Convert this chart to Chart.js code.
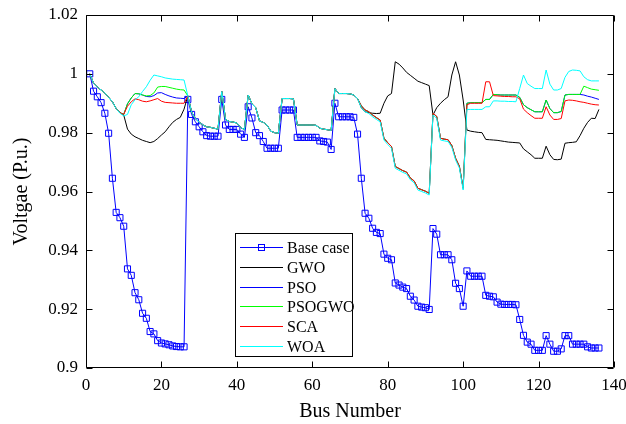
<!DOCTYPE html>
<html>
<head>
<meta charset="utf-8">
<script src="https://cdn.jsdelivr.net/npm/chart.js@4.4.1/dist/chart.umd.min.js"></script>
<style>
  html, body { margin: 0; padding: 0; background: #ffffff; }
  #c { display: block; }
</style>
</head>
<body>
<canvas id="c" width="626" height="424"></canvas>
<script>
// ---------------- DATA ----------------
const seriesNames = ['Base case', 'GWO', 'PSO', 'PSOGWO', 'SCA', 'WOA'];
const busNumbers = Array.from({ length: 136 }, (_, i) => i + 1);

const xTickValues = [0, 20, 40, 60, 80, 100, 120, 140];
const xTickLabels = ['0', '20', '40', '60', '80', '100', '120', '140'];
const yTickValues = [0.9, 0.92, 0.94, 0.96, 0.98, 1.0, 1.02];
const yTickLabels = ['0.9', '0.92', '0.94', '0.96', '0.98', '1', '1.02'];

const baseCase = [
  1.0000, 0.9941, 0.9922, 0.9902, 0.9866, 0.9798, 0.9645, 0.9529, 0.9511, 0.9482,
  0.9337, 0.9315, 0.9256, 0.9232, 0.9186, 0.9169, 0.9124, 0.9116, 0.9093, 0.9085,
  0.9082, 0.9079, 0.9075, 0.9073, 0.9072, 0.9072, 0.9913, 0.9862, 0.9837, 0.9820,
  0.9803, 0.9790, 0.9788, 0.9788, 0.9788, 0.9913, 0.9826, 0.9811, 0.9811, 0.9811,
  0.9795, 0.9784, 0.9888, 0.9850, 0.9800, 0.9790, 0.9770, 0.9747, 0.9747, 0.9747,
  0.9747, 0.9877, 0.9877, 0.9877, 0.9877, 0.9784, 0.9784, 0.9784, 0.9784, 0.9784,
  0.9784, 0.9772, 0.9770, 0.9768, 0.9743, 0.9900, 0.9854, 0.9854, 0.9854, 0.9854,
  0.9852, 0.9795, 0.9645, 0.9526, 0.9509, 0.9475, 0.9461, 0.9457, 0.9387, 0.9373,
  0.9368, 0.9289, 0.9282, 0.9275, 0.9270, 0.9244, 0.9231, 0.9210, 0.9207, 0.9205,
  0.9199, 0.9474, 0.9455, 0.9385, 0.9385, 0.9385, 0.9368, 0.9288, 0.9270, 0.9210,
  0.9330, 0.9312, 0.9312, 0.9312, 0.9312, 0.9247, 0.9244, 0.9242, 0.9224, 0.9217,
  0.9216, 0.9216, 0.9216, 0.9215, 0.9165, 0.9111, 0.9088, 0.9081, 0.9060, 0.9060,
  0.9060, 0.9110, 0.9081, 0.9057, 0.9057, 0.9065, 0.9110, 0.9110, 0.9081, 0.9081,
  0.9081, 0.9081, 0.9072, 0.9068, 0.9068, 0.9068
];

const gwo = [
  1.0000, 0.9968, 0.9955, 0.9945, 0.9935, 0.9920, 0.9905, 0.9882, 0.9868, 0.9860,
  0.9812, 0.9795, 0.9786, 0.9780, 0.9774, 0.9770, 0.9766, 0.9770, 0.9780, 0.9792,
  0.9803, 0.9820, 0.9835, 0.9845, 0.9852, 0.9880, 0.9925, 0.9870, 0.9848, 0.9836,
  0.9826, 0.9820, 0.9818, 0.9815, 0.9812, 0.9940, 0.9845, 0.9838, 0.9836, 0.9833,
  0.9818, 0.9810, 0.9928, 0.9898, 0.9885, 0.9840, 0.9835, 0.9826, 0.9805, 0.9800,
  0.9798, 0.9916, 0.9916, 0.9916, 0.9915, 0.9826, 0.9826, 0.9826, 0.9826, 0.9826,
  0.9825, 0.9815, 0.9812, 0.9810, 0.9808, 0.9950, 0.9933, 0.9933, 0.9933, 0.9932,
  0.9928, 0.9916, 0.9885, 0.9871, 0.9868, 0.9866, 0.9865, 0.9866, 0.9900, 0.9925,
  0.9933, 1.0041, 1.0033, 1.0020, 1.0005, 0.9995, 0.9985, 0.9975, 0.9970, 0.9965,
  0.9960, 0.9860, 0.9885, 0.9900, 0.9912, 0.9922, 0.9996, 1.0041, 0.9996, 0.9911,
  0.9809, 0.9805, 0.9803, 0.9801, 0.9800, 0.9777, 0.9776, 0.9775, 0.9774, 0.9772,
  0.9770, 0.9768, 0.9767, 0.9766, 0.9765, 0.9745, 0.9735, 0.9725, 0.9713, 0.9713,
  0.9713, 0.9754, 0.9725, 0.9709, 0.9708, 0.9710, 0.9764, 0.9766, 0.9767, 0.9769,
  0.9790, 0.9815, 0.9835, 0.9849, 0.9848, 0.9879
];

const pso = [
  1.0000, 0.9968, 0.9955, 0.9945, 0.9935, 0.9920, 0.9905, 0.9882, 0.9868, 0.9862,
  0.9898, 0.9918, 0.9933, 0.9932, 0.9928, 0.9923, 0.9922, 0.9926, 0.9935, 0.9936,
  0.9930, 0.9925, 0.9921, 0.9918, 0.9917, 0.9916, 0.9925, 0.9870, 0.9848, 0.9836,
  0.9826, 0.9820, 0.9818, 0.9815, 0.9812, 0.9940, 0.9845, 0.9838, 0.9836, 0.9833,
  0.9818, 0.9810, 0.9928, 0.9898, 0.9885, 0.9840, 0.9835, 0.9826, 0.9805, 0.9800,
  0.9798, 0.9916, 0.9916, 0.9916, 0.9915, 0.9826, 0.9826, 0.9826, 0.9826, 0.9826,
  0.9825, 0.9815, 0.9812, 0.9810, 0.9808, 0.9950, 0.9933, 0.9933, 0.9933, 0.9932,
  0.9928, 0.9916, 0.9891, 0.9877, 0.9871, 0.9860, 0.9851, 0.9843, 0.9781, 0.9766,
  0.9753, 0.9685, 0.9678, 0.9671, 0.9666, 0.9646, 0.9636, 0.9611, 0.9606, 0.9601,
  0.9594, 0.9866, 0.9855, 0.9781, 0.9778, 0.9776, 0.9756, 0.9713, 0.9686, 0.9611,
  0.9900, 0.9902, 0.9902, 0.9902, 0.9902, 0.9913, 0.9913, 0.9930, 0.9929, 0.9928,
  0.9928, 0.9928, 0.9928, 0.9928, 0.9920, 0.9895, 0.9885, 0.9878, 0.9871, 0.9871,
  0.9871, 0.9911, 0.9882, 0.9868, 0.9868, 0.9872, 0.9928, 0.9930, 0.9930, 0.9930,
  0.9930, 0.9928, 0.9924, 0.9921, 0.9917, 0.9913
];

const psogwo = [
  1.0000, 0.9968, 0.9955, 0.9945, 0.9935, 0.9920, 0.9905, 0.9882, 0.9868, 0.9862,
  0.9898, 0.9918, 0.9933, 0.9932, 0.9928, 0.9925, 0.9926, 0.9935, 0.9955, 0.9957,
  0.9957, 0.9954, 0.9951, 0.9948, 0.9946, 0.9945, 0.9925, 0.9870, 0.9848, 0.9836,
  0.9826, 0.9820, 0.9818, 0.9815, 0.9812, 0.9940, 0.9845, 0.9838, 0.9836, 0.9833,
  0.9818, 0.9810, 0.9928, 0.9898, 0.9885, 0.9840, 0.9835, 0.9826, 0.9805, 0.9800,
  0.9798, 0.9916, 0.9916, 0.9916, 0.9915, 0.9826, 0.9826, 0.9826, 0.9826, 0.9826,
  0.9825, 0.9815, 0.9812, 0.9810, 0.9808, 0.9950, 0.9933, 0.9933, 0.9933, 0.9932,
  0.9928, 0.9916, 0.9891, 0.9877, 0.9871, 0.9860, 0.9851, 0.9843, 0.9781, 0.9766,
  0.9753, 0.9685, 0.9678, 0.9671, 0.9666, 0.9646, 0.9636, 0.9611, 0.9606, 0.9601,
  0.9594, 0.9866, 0.9855, 0.9781, 0.9778, 0.9776, 0.9756, 0.9713, 0.9686, 0.9611,
  0.9900, 0.9902, 0.9902, 0.9902, 0.9902, 0.9913, 0.9913, 0.9930, 0.9929, 0.9928,
  0.9928, 0.9928, 0.9928, 0.9928, 0.9920, 0.9895, 0.9885, 0.9878, 0.9871, 0.9871,
  0.9871, 0.9911, 0.9882, 0.9868, 0.9868, 0.9872, 0.9928, 0.9930, 0.9930, 0.9930,
  0.9930, 0.9958, 0.9953, 0.9948, 0.9946, 0.9944
];

const sca = [
  1.0000, 0.9968, 0.9955, 0.9945, 0.9935, 0.9920, 0.9905, 0.9882, 0.9868, 0.9862,
  0.9890, 0.9905, 0.9915, 0.9912, 0.9907, 0.9905, 0.9908, 0.9912, 0.9916, 0.9907,
  0.9903, 0.9902, 0.9901, 0.9900, 0.9900, 0.9900, 0.9925, 0.9870, 0.9848, 0.9836,
  0.9826, 0.9820, 0.9818, 0.9815, 0.9812, 0.9940, 0.9845, 0.9838, 0.9836, 0.9833,
  0.9818, 0.9810, 0.9928, 0.9898, 0.9885, 0.9840, 0.9835, 0.9826, 0.9805, 0.9800,
  0.9798, 0.9916, 0.9916, 0.9916, 0.9915, 0.9826, 0.9826, 0.9826, 0.9826, 0.9826,
  0.9825, 0.9815, 0.9812, 0.9810, 0.9808, 0.9950, 0.9933, 0.9933, 0.9933, 0.9932,
  0.9928, 0.9916, 0.9891, 0.9877, 0.9871, 0.9860, 0.9851, 0.9843, 0.9781, 0.9766,
  0.9753, 0.9685, 0.9678, 0.9671, 0.9666, 0.9646, 0.9636, 0.9611, 0.9606, 0.9601,
  0.9594, 0.9866, 0.9855, 0.9781, 0.9778, 0.9776, 0.9756, 0.9713, 0.9686, 0.9611,
  0.9895, 0.9900, 0.9900, 0.9900, 0.9900, 0.9973, 0.9973, 0.9926, 0.9925, 0.9924,
  0.9923, 0.9923, 0.9922, 0.9922, 0.9915, 0.9880, 0.9868, 0.9858, 0.9849, 0.9849,
  0.9849, 0.9888, 0.9860, 0.9845, 0.9845, 0.9848, 0.9908, 0.9911, 0.9910, 0.9908,
  0.9905, 0.9903, 0.9900, 0.9897, 0.9895, 0.9894
];

const woa = [
  1.0000, 0.9968, 0.9955, 0.9945, 0.9935, 0.9920, 0.9905, 0.9882, 0.9866, 0.9857,
  0.9862, 0.9895, 0.9912, 0.9922, 0.9940, 0.9956, 0.9978, 0.9996, 0.9993, 0.9990,
  0.9986, 0.9984, 0.9982, 0.9981, 0.9980, 0.9979, 0.9925, 0.9870, 0.9848, 0.9836,
  0.9826, 0.9820, 0.9818, 0.9815, 0.9812, 0.9940, 0.9845, 0.9838, 0.9836, 0.9833,
  0.9818, 0.9810, 0.9928, 0.9898, 0.9885, 0.9840, 0.9835, 0.9826, 0.9805, 0.9800,
  0.9798, 0.9916, 0.9916, 0.9916, 0.9915, 0.9826, 0.9826, 0.9826, 0.9826, 0.9826,
  0.9825, 0.9815, 0.9812, 0.9810, 0.9808, 0.9950, 0.9933, 0.9933, 0.9933, 0.9932,
  0.9928, 0.9916, 0.9885, 0.9871, 0.9865, 0.9854, 0.9845, 0.9837, 0.9775, 0.9760,
  0.9747, 0.9679, 0.9672, 0.9665, 0.9660, 0.9640, 0.9630, 0.9605, 0.9600, 0.9595,
  0.9588, 0.9860, 0.9849, 0.9775, 0.9772, 0.9770, 0.9750, 0.9707, 0.9680, 0.9605,
  0.9879, 0.9879, 0.9879, 0.9879, 0.9879, 0.9888, 0.9888, 0.9908, 0.9908, 0.9907,
  0.9907, 0.9906, 0.9906, 0.9905, 0.9950, 0.9996, 0.9967, 0.9958, 0.9950, 0.9950,
  0.9950, 1.0013, 0.9965, 0.9945, 0.9945, 0.9950, 0.9988, 1.0008, 1.0013, 1.0012,
  1.0010, 0.9990, 0.9980, 0.9976, 0.9976, 0.9976
];

const seriesValues = [baseCase, gwo, pso, psogwo, sca, woa];
const seriesColors = ['#0000ff', '#000000', '#0000ff', '#00ff00', '#ff0000', '#00ffff'];

// ---------------- CHART ----------------
Chart.defaults.font.family = "'Liberation Serif', 'Times New Roman', serif";
Chart.defaults.color = '#000000';

const datasets = seriesNames.map((name, i) => ({
  label: name,
  data: busNumbers.map((b, k) => ({ x: b, y: seriesValues[i][k] })),
  borderColor: seriesColors[i],
  backgroundColor: seriesColors[i],
  borderWidth: 1,
  fill: false,
  tension: 0,
  pointStyle: 'rect',
  pointRadius: i === 0 ? 4.3 : 0,
  pointHoverRadius: 0,
  pointBorderWidth: 1,
  pointBorderColor: seriesColors[i],
  pointBackgroundColor: 'rgba(0,0,0,0)',
  order: seriesNames.length - i
}));

const TICK_LEN = 6;

const framePlugin = {
  id: 'framePlugin',
  afterDraw(chart) {
    const ctx = chart.ctx;
    const a = chart.chartArea;
    const xs = chart.scales.x, ys = chart.scales.y;
    ctx.save();
    ctx.strokeStyle = '#000000';
    ctx.lineWidth = 1;
    const L = Math.round(a.left) + 0.5, R = Math.round(a.right) - 0.5;
    const T = Math.round(a.top) + 0.5, B = Math.round(a.bottom) - 0.5;
    ctx.beginPath();
    ctx.rect(L, T, R - L, B - T);
    ctx.stroke();
    ctx.beginPath();
    xTickValues.forEach(v => {
      const px = Math.round(xs.getPixelForValue(v)) + 0.5;
      ctx.moveTo(px, B); ctx.lineTo(px, B - TICK_LEN);
      ctx.moveTo(px, T); ctx.lineTo(px, T + TICK_LEN);
    });
    yTickValues.forEach(v => {
      const py = Math.round(ys.getPixelForValue(v)) + 0.5;
      ctx.moveTo(L, py); ctx.lineTo(L + TICK_LEN, py);
      ctx.moveTo(R, py); ctx.lineTo(R - TICK_LEN, py);
    });
    ctx.stroke();

    // legend inside the plot area
    const boxX = 235.5, boxY = 233.5, boxW = 117, boxH = 123;
    ctx.fillStyle = '#ffffff';
    ctx.fillRect(boxX, boxY, boxW, boxH);
    ctx.strokeStyle = '#000000';
    ctx.strokeRect(boxX, boxY, boxW, boxH);
    ctx.font = "16px 'Liberation Serif', 'Times New Roman', serif";
    ctx.textBaseline = 'middle';
    ctx.textAlign = 'left';
    chart.data.datasets.forEach((ds, i) => {
      const yRow = Math.round(247 + i * 19.8) + 0.5;
      ctx.strokeStyle = ds.borderColor;
      ctx.lineWidth = 1;
      ctx.beginPath();
      ctx.moveTo(240, yRow); ctx.lineTo(283, yRow);
      ctx.stroke();
      if (ds.pointRadius > 0) {
        ctx.strokeRect(258.5, yRow - 3, 6, 6);
      }
      ctx.fillStyle = '#000000';
      ctx.fillText(ds.label, 287, yRow + 1);
    });
    ctx.restore();
  }
};

new Chart(document.getElementById('c'), {
  type: 'line',
  data: { datasets },
  options: {
    responsive: false,
    animation: false,
    devicePixelRatio: 1,
    layout: { padding: { top: 15, right: 12, left: 0, bottom: 0 } },
    plugins: { legend: { display: false }, tooltip: { enabled: false }, title: { display: false } },
    scales: {
      x: {
        type: 'linear',
        min: 0, max: 140,
        grid: { display: false, drawTicks: false },
        border: { display: false },
        afterBuildTicks: s => { s.ticks = xTickValues.map(v => ({ value: v })); },
        afterFit: s => { s.height = 56; s.paddingLeft = 0; s.paddingRight = 0; },
        ticks: {
          padding: 7,
          maxRotation: 0,
          font: { size: 17 },
          color: '#000000',
          callback: (v, i) => xTickLabels[i]
        },
        title: {
          display: true,
          text: 'Bus Number',
          font: { size: 20 },
          color: '#000000',
          padding: { top: 0, bottom: 0 }
        }
      },
      y: {
        type: 'linear',
        min: 0.9, max: 1.02,
        grid: { display: false, drawTicks: false },
        border: { display: false },
        afterBuildTicks: s => { s.ticks = yTickValues.map(v => ({ value: v })); },
        afterFit: s => { s.width = 86; s.paddingTop = 0; s.paddingBottom = 0; },
        ticks: {
          padding: 8,
          font: { size: 17 },
          color: '#000000',
          callback: (v, i) => yTickLabels[i]
        },
        title: {
          display: true,
          text: 'Voltgae (P.u.)',
          font: { size: 20 },
          color: '#000000',
          padding: { top: 10, bottom: 0 }
        }
      }
    }
  },
  plugins: [framePlugin]
});
</script>
</body>
</html>
